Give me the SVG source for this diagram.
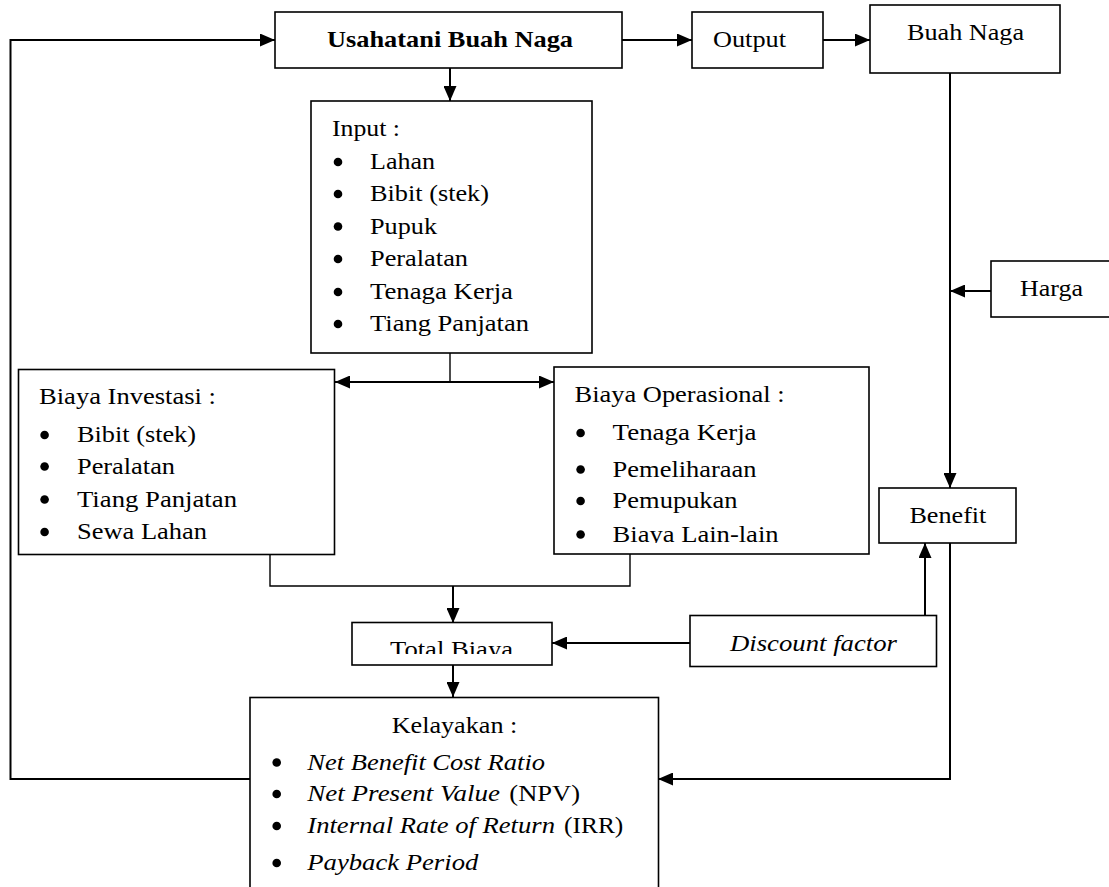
<svg xmlns="http://www.w3.org/2000/svg" width="1109" height="887" viewBox="0 0 1109 887">
<style>
.box{fill:#fff;stroke:#000;stroke-width:1.6}
.t{font-family:"Liberation Serif","Times New Roman",serif;font-size:24px;fill:#000}
.b{font-weight:bold}
.i{font-style:italic}
.c{fill:none;stroke:#000;stroke-width:2}
.thin{fill:none;stroke:#000;stroke-width:1.4}
.dot{fill:#000}
</style>
<defs>
<marker id="ah" markerUnits="userSpaceOnUse" markerWidth="15" markerHeight="13" refX="15" refY="6.5" orient="auto-start-reverse"><path d="M0,0 L15,6.5 L0,13 z" fill="#000"/></marker>
<clipPath id="clipTB"><rect x="352" y="600" width="200" height="54"/></clipPath>
<clipPath id="clipBO"><rect x="554" y="520" width="315" height="23"/></clipPath>
</defs>

<g id="connectors">
<polyline class="c" points="250,779 10.5,779 10.5,40 275,40" marker-end="url(#ah)"/>
<line class="c" x1="622" y1="40" x2="692" y2="40" marker-end="url(#ah)"/>
<line class="c" x1="823" y1="40" x2="870" y2="40" marker-end="url(#ah)"/>
<line class="c" x1="450" y1="68" x2="450" y2="101" marker-end="url(#ah)"/>
<line class="c" x1="950" y1="73" x2="950" y2="488" marker-end="url(#ah)"/>
<line class="c" x1="991" y1="291" x2="950" y2="291" marker-end="url(#ah)"/>
<line class="thin" x1="450" y1="353" x2="450" y2="382"/>
<line class="c" x1="335" y1="382" x2="554" y2="382" marker-start="url(#ah)" marker-end="url(#ah)"/>
<polyline class="thin" points="270,554 270,586 630,586 630,554"/>
<line class="c" x1="453" y1="586" x2="453" y2="623" marker-end="url(#ah)"/>
<line class="c" x1="453" y1="665" x2="453" y2="697" marker-end="url(#ah)"/>
<line class="c" x1="690" y1="643" x2="552" y2="643" marker-end="url(#ah)"/>
<line class="c" x1="925" y1="616" x2="925" y2="543" marker-end="url(#ah)"/>
<polyline class="c" points="950,543 950,779 658,779" marker-end="url(#ah)"/>
</g>

<g id="usahatani">
<rect class="box" x="275" y="12" width="347" height="56"/>
<text class="t b" x="327" y="47" textLength="246" lengthAdjust="spacingAndGlyphs">Usahatani Buah Naga</text>
</g>

<g id="output">
<rect class="box" x="692" y="12" width="131" height="56"/>
<text class="t" x="713" y="47" textLength="73" lengthAdjust="spacingAndGlyphs">Output</text>
</g>

<g id="buah-naga">
<rect class="box" x="870" y="5" width="190" height="68"/>
<text class="t" x="907" y="40" textLength="117" lengthAdjust="spacingAndGlyphs">Buah Naga</text>
</g>

<g id="harga">
<rect class="box" x="991" y="261" width="130" height="56"/>
<text class="t" x="1020" y="296" textLength="63" lengthAdjust="spacingAndGlyphs">Harga</text>
</g>

<g id="input">
<rect class="box" x="311" y="101" width="281" height="252"/>
<text class="t" x="332" y="136" textLength="68" lengthAdjust="spacingAndGlyphs">Input :</text>
<circle class="dot" cx="338" cy="162" r="4.3"/>
<text class="t" x="370" y="169" textLength="65" lengthAdjust="spacingAndGlyphs">Lahan</text>
<circle class="dot" cx="338" cy="194" r="4.3"/>
<text class="t" x="370" y="201" textLength="119" lengthAdjust="spacingAndGlyphs">Bibit (stek)</text>
<circle class="dot" cx="338" cy="226.5" r="4.3"/>
<text class="t" x="370" y="233.5" textLength="67" lengthAdjust="spacingAndGlyphs">Pupuk</text>
<circle class="dot" cx="338" cy="259" r="4.3"/>
<text class="t" x="370" y="266" textLength="98" lengthAdjust="spacingAndGlyphs">Peralatan</text>
<circle class="dot" cx="338" cy="292" r="4.3"/>
<text class="t" x="370" y="299" textLength="143" lengthAdjust="spacingAndGlyphs">Tenaga Kerja</text>
<circle class="dot" cx="338" cy="324" r="4.3"/>
<text class="t" x="370" y="331" textLength="159" lengthAdjust="spacingAndGlyphs">Tiang Panjatan</text>
</g>

<g id="biaya-investasi">
<rect class="box" x="18.5" y="369.5" width="316" height="185"/>
<text class="t" x="39" y="404" textLength="177" lengthAdjust="spacingAndGlyphs">Biaya Investasi :</text>
<circle class="dot" cx="44.6" cy="435" r="4.3"/>
<text class="t" x="77" y="442" textLength="119" lengthAdjust="spacingAndGlyphs">Bibit (stek)</text>
<circle class="dot" cx="44.6" cy="466.5" r="4.3"/>
<text class="t" x="77" y="473.5" textLength="98" lengthAdjust="spacingAndGlyphs">Peralatan</text>
<circle class="dot" cx="44.6" cy="499.5" r="4.3"/>
<text class="t" x="77" y="506.5" textLength="160" lengthAdjust="spacingAndGlyphs">Tiang Panjatan</text>
<circle class="dot" cx="44.6" cy="532" r="4.3"/>
<text class="t" x="77" y="539" textLength="130" lengthAdjust="spacingAndGlyphs">Sewa Lahan</text>
</g>

<g id="biaya-operasional">
<rect class="box" x="554" y="367" width="315" height="187"/>
<text class="t" x="574.5" y="401.5" textLength="210" lengthAdjust="spacingAndGlyphs">Biaya Operasional :</text>
<circle class="dot" cx="580.6" cy="433" r="4.3"/>
<text class="t" x="612.6" y="440" textLength="144" lengthAdjust="spacingAndGlyphs">Tenaga Kerja</text>
<circle class="dot" cx="580.6" cy="469.5" r="4.3"/>
<text class="t" x="612.6" y="476.5" textLength="144" lengthAdjust="spacingAndGlyphs">Pemeliharaan</text>
<circle class="dot" cx="580.6" cy="501" r="4.3"/>
<text class="t" x="612.6" y="508" textLength="125" lengthAdjust="spacingAndGlyphs">Pemupukan</text>
<circle class="dot" cx="580.6" cy="534.5" r="4.3"/>
<text class="t" x="612.6" y="541.5" textLength="166" lengthAdjust="spacingAndGlyphs" clip-path="url(#clipBO)">Biaya Lain-lain</text>
</g>

<g id="benefit">
<rect class="box" x="879" y="488" width="137" height="55"/>
<text class="t" x="909.4" y="523" textLength="77" lengthAdjust="spacingAndGlyphs">Benefit</text>
</g>

<g id="discount-factor">
<rect class="box" x="690" y="615.5" width="246.5" height="51"/>
<text class="t i" x="730" y="651" textLength="167" lengthAdjust="spacingAndGlyphs">Discount factor</text>
</g>

<g id="total-biaya">
<rect class="box" x="352" y="622.5" width="200" height="42.5"/>
<text class="t" x="390" y="656.5" textLength="123" lengthAdjust="spacingAndGlyphs" clip-path="url(#clipTB)">Total Biaya</text>
</g>

<g id="kelayakan">
<rect class="box" x="250" y="697.5" width="408.5" height="220"/>
<text class="t" x="391.7" y="733" textLength="125.6" lengthAdjust="spacingAndGlyphs">Kelayakan :</text>
<circle class="dot" cx="276.7" cy="762.5" r="4.3"/>
<text class="t i" x="307.3" y="769.5" textLength="237.7" lengthAdjust="spacingAndGlyphs">Net Benefit Cost Ratio</text>
<circle class="dot" cx="276.7" cy="794" r="4.3"/>
<text class="t i" x="307.3" y="801" textLength="192.7" lengthAdjust="spacingAndGlyphs">Net Present Value</text>
<text class="t" x="509.3" y="801" textLength="70.7" lengthAdjust="spacingAndGlyphs">(NPV)</text>
<circle class="dot" cx="276.7" cy="826" r="4.3"/>
<text class="t i" x="307.3" y="833" textLength="247.7" lengthAdjust="spacingAndGlyphs">Internal Rate of Return</text>
<text class="t" x="564" y="833" textLength="59.3" lengthAdjust="spacingAndGlyphs">(IRR)</text>
<circle class="dot" cx="276.7" cy="863" r="4.3"/>
<text class="t i" x="307.3" y="870" textLength="171" lengthAdjust="spacingAndGlyphs">Payback Period</text>
</g>
</svg>
